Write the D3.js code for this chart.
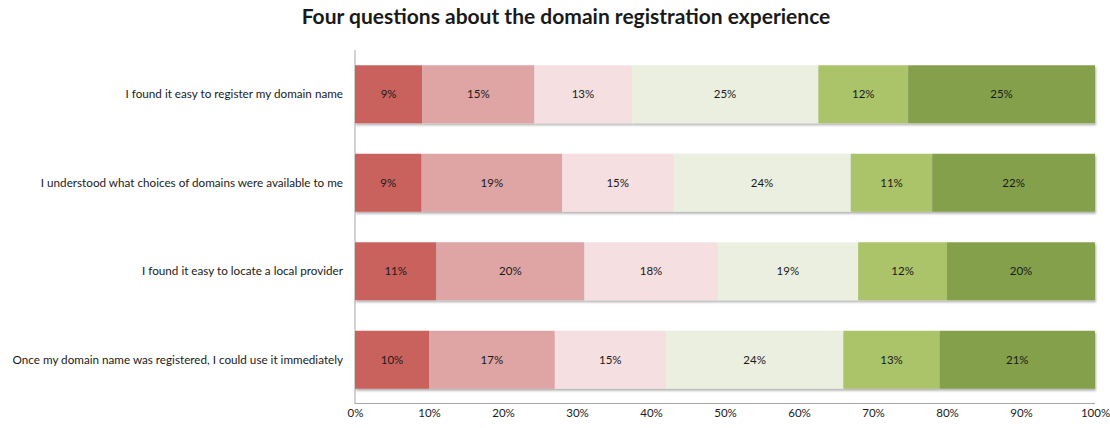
<!DOCTYPE html>
<html>
<head>
<meta charset="utf-8">
<script src="https://cdn.jsdelivr.net/npm/d3@7"></script>
<style>
  body { margin: 0; background: #fff; }
  text { font-family: Lato, "Open Sans", sans-serif; fill: #1a1a1a; }
</style>
</head>
<body>
<script>
var width = 1110, height = 428;

var questions = [
  "I found it easy to register my domain name",
  "I understood what choices of domains were available to me",
  "I found it easy to locate a local provider",
  "Once my domain name was registered, I could use it immediately"
];

// six answer levels, from strongly disagree to strongly agree
var levels = ["l1", "l2", "l3", "l4", "l5", "l6"];

var level1 = [9, 9, 11, 10];
var level2 = [15, 19, 20, 17];
var level3 = [13, 15, 18, 15];
var level4 = [25, 24, 19, 24];
var level5 = [12, 11, 12, 13];
var level6 = [25, 22, 20, 21];

var tickValues = [0, 0.1, 0.2, 0.3, 0.4, 0.5, 0.6, 0.7, 0.8, 0.9, 1];

var colors = ["#c9625d", "#dea5a4", "#f5dfe0", "#eaefe0", "#abc46b", "#85a04c"];

var rows = questions.map(function (q, i) {
  return { q: q, l1: level1[i], l2: level2[i], l3: level3[i], l4: level4[i], l5: level5[i], l6: level6[i] };
});

var svg = d3.select("body").append("svg")
  .attr("width", width)
  .attr("height", height);

var defs = svg.append("defs");
defs.append("filter").attr("id", "shadow")
  .attr("x", "-5%").attr("y", "-10%").attr("width", "110%").attr("height", "130%")
  .append("feDropShadow")
  .attr("dx", 1).attr("dy", 2).attr("stdDeviation", 1)
  .attr("flood-color", "#000").attr("flood-opacity", 0.3);

var x = d3.scaleLinear().domain([0, 1]).range([355, 1095]);
var y = d3.scaleBand().domain(questions).range([50, 404])
  .paddingInner(0.345).paddingOuter(0.1725);

var stack = d3.stack().keys(levels).offset(d3.stackOffsetExpand);
var series = stack(rows);

svg.append("text")
  .attr("x", 566).attr("y", 24)
  .attr("text-anchor", "middle")
  .style("font-size", "21px")
  .style("font-weight", "bold")
  .text("Four questions about the domain registration experience");

// axis lines
svg.append("line")
  .attr("x1", x(0)).attr("x2", x(0))
  .attr("y1", 50).attr("y2", 404)
  .attr("stroke", "#a6a6a6");
svg.append("line")
  .attr("x1", x(0)).attr("x2", x(1))
  .attr("y1", 403.5).attr("y2", 403.5)
  .attr("stroke", "#a6a6a6");

var bars = svg.append("g");
questions.forEach(function (q, i) {
  var g = bars.append("g").attr("filter", "url(#shadow)");
  g.selectAll("rect")
    .data(series.map(function (s) { return s[i]; }))
    .enter().append("rect")
    .attr("x", function (d) { return x(d[0]); })
    .attr("width", function (d) { return x(d[1]) - x(d[0]); })
    .attr("y", y(q))
    .attr("height", y.bandwidth())
    .attr("fill", function (d, j) { return colors[j]; });
});

var labels = svg.append("g");
series.forEach(function (s, j) {
  s.forEach(function (d, i) {
    labels.append("text")
      .attr("x", (x(d[0]) + x(d[1])) / 2)
      .attr("y", y(questions[i]) + y.bandwidth() / 2)
      .attr("dy", "0.35em")
      .attr("text-anchor", "middle")
      .style("font-size", "11.5px")
      .text(d.data[levels[j]] + "%");
  });
});

// category labels
svg.append("g").selectAll("text")
  .data(questions)
  .enter().append("text")
  .attr("x", 343)
  .attr("y", function (d) { return y(d) + y.bandwidth() / 2; })
  .attr("dy", "0.35em")
  .attr("text-anchor", "end")
  .style("font-size", "11.7px")
  .text(function (d) { return d; });

// x axis tick labels
var xAxis = d3.axisBottom(x)
  .tickValues(tickValues)
  .tickFormat(d3.format(".0%"))
  .tickSize(0)
  .tickPadding(6);
var ax = svg.append("g")
  .attr("transform", "translate(0,403)")
  .call(xAxis);
ax.select(".domain").remove();
ax.selectAll("text")
  .attr("fill", "#1a1a1a")
  .style("font-family", "Lato, 'Open Sans', sans-serif")
  .style("font-size", "11.5px");
</script>
</body>
</html>
